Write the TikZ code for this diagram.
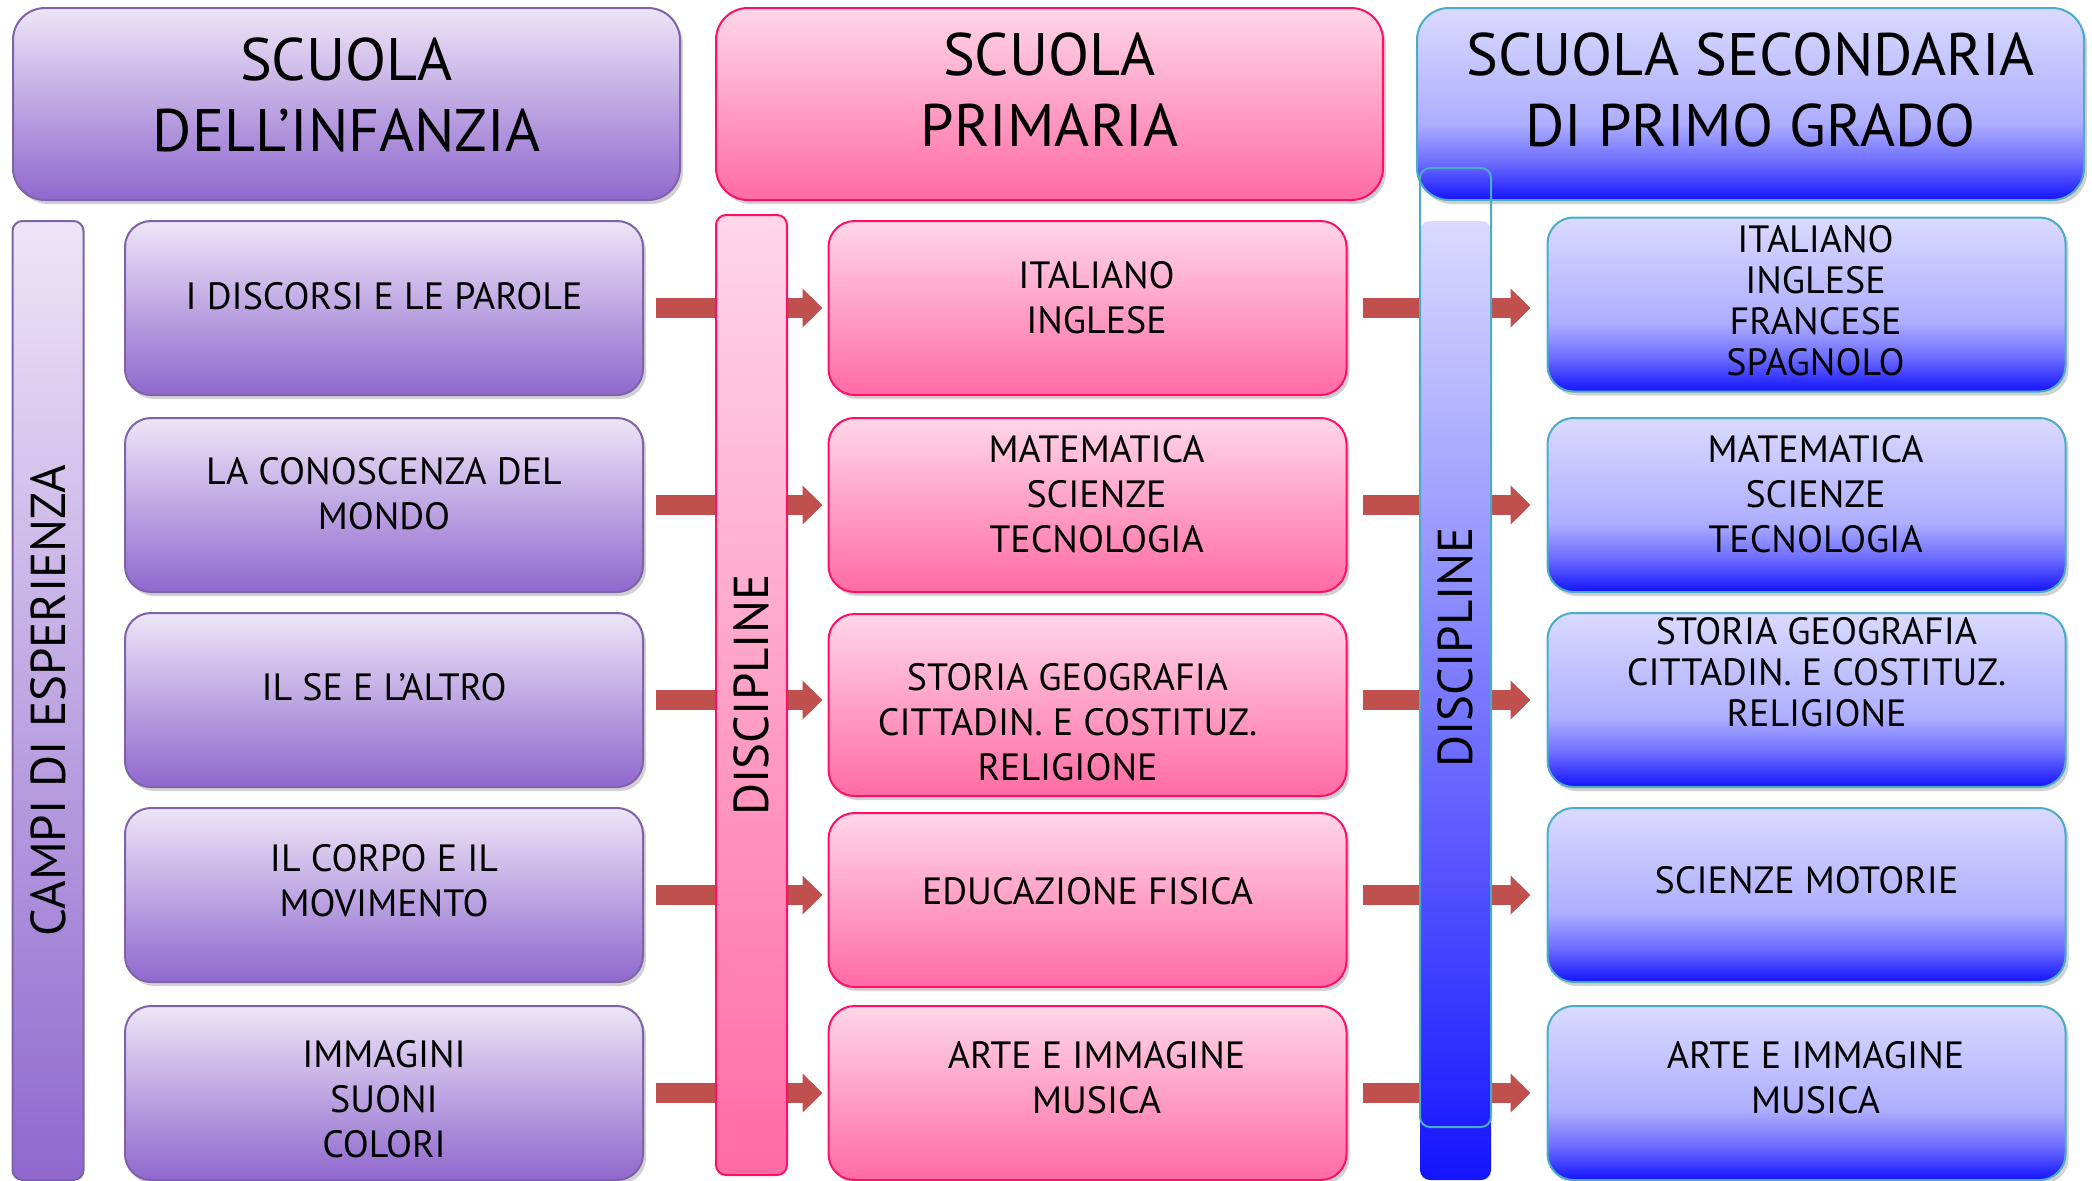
\documentclass[tikz,border=0pt]{standalone}
\usepackage{fontspec}
\setmainfont{PT Sans}
\usepackage{tikz}
\usetikzlibrary{positioning,arrows.meta,shadows}

\definecolor{violaT}{HTML}{EDE5F7}
\definecolor{violaB}{HTML}{9068CE}
\definecolor{violaL}{HTML}{7F63A8}
\definecolor{rosaT}{HTML}{FFD6E8}
\definecolor{rosaB}{HTML}{FF6BA4}
\definecolor{rosaL}{HTML}{FF0F68}
\definecolor{bluT}{HTML}{DADAFF}
\definecolor{bluM}{HTML}{AEAEFF}
\definecolor{bluMB}{HTML}{6E6EFF}
\definecolor{bluB}{HTML}{1414FF}
\definecolor{bluL}{HTML}{4BACC6}
\definecolor{frecciaR}{HTML}{C0504D}

\pgfdeclareverticalshading{blusfum}{100bp}{color(0bp)=(bluB); color(25bp)=(bluB); color(35bp)=(bluMB); color(45bp)=(bluM); color(75bp)=(bluT); color(100bp)=(bluT)}

\begin{document}
\begin{tikzpicture}[x=0.5pt, y=-0.5pt,
ombra/.style={drop shadow={shadow xshift=1.5pt, shadow yshift=-2pt, opacity=.3, fill=black!60}},
intest/.style={rounded corners=16pt, minimum width=333.5pt, minimum height=96pt, line width=1pt, inner sep=0pt, ombra},
casella/.style={rounded corners=13pt, minimum width=259pt, minimum height=87pt, line width=1pt, inner sep=0pt, ombra},
viola/.style={draw=violaL, top color=violaT, bottom color=violaB},
rosa/.style={draw=rosaL, top color=rosaT, bottom color=rosaB},
blu/.style={draw=bluL, shade, shading=blusfum},
barra/.style={rounded corners=5pt, minimum width=35.5pt, minimum height=479.5pt, line width=1pt, inner sep=0pt},
titolo/.style={align=center, font=\fontsize{30}{35.5}\selectfont},
testo/.style={align=center, font=\fontsize{19}{22.5}\selectfont},
fitto/.style={align=center, font=\fontsize{19}{20.5}\selectfont},
verticale/.style={rotate=90, font=\fontsize{24.5}{28}\selectfont},
freccia/.style={line width=10pt, draw=frecciaR, -{Triangle[length=10pt, width=19pt]}}
]
\useasboundingbox (0,0) rectangle (2092,1180);

%intestazioni
\node[intest, viola, label={[titolo, yshift=4.5pt]center:SCUOLA\\DELL'INFANZIA}] (infanzia) at (346.5,104) {};
\node[intest, rosa, label={[titolo, yshift=7pt]center:SCUOLA\\PRIMARIA}] (primaria) at (1049.5,104) {};
\node[intest, blu, label={[titolo, yshift=7pt]center:SCUOLA SECONDARIA\\DI PRIMO GRADO}] (secondaria) at (1750.5,104) {};

%campi di esperienza
\node[barra, viola, label={[verticale]center:CAMPI DI ESPERIENZA}] (campi) at (48,700.5) {};
\node[casella, viola, label={[testo, yshift=6pt]center:I DISCORSI E LE PAROLE}] (c1) at (384,308) {};
\node[casella, viola, label={[testo, yshift=5.5pt]center:LA CONOSCENZA DEL\\MONDO}] (c2) at (384,505) {};
\node[casella, viola, label={[testo, yshift=6.5pt]center:IL SE E L'ALTRO}] (c3) at (384,700) {};
\node[casella, viola, label={[testo, yshift=7pt]center:IL CORPO E IL\\MOVIMENTO}] (c4) at (384,895) {};
\node[casella, viola, label={[testo, yshift=-3pt]center:IMMAGINI\\SUONI\\COLORI}] (c5) at (384,1093) {};

%primaria
\node[casella, rosa, label={[testo, yshift=5pt, xshift=4.5pt]center:ITALIANO\\INGLESE}] (p1) at (1087.5,308) {};
\node[casella, rosa, label={[testo, yshift=5.5pt, xshift=4.5pt]center:MATEMATICA\\SCIENZE\\TECNOLOGIA}] (p2) at (1087.5,505) {};
\node[casella, rosa, minimum height=91pt, label={[testo, yshift=-8.5pt, xshift=-10pt]center:STORIA GEOGRAFIA\\CITTADIN. E COSTITUZ.\\RELIGIONE}] (p3) at (1087.5,705) {};
\node[casella, rosa, label={[testo, yshift=4.5pt]center:EDUCAZIONE FISICA}] (p4) at (1087.5,900) {};
\node[casella, rosa, label={[testo, yshift=7.5pt, xshift=4.5pt]center:ARTE E IMMAGINE\\MUSICA}] (p5) at (1087.5,1093) {};

%secondaria
\node[casella, blu, label={[fitto, yshift=2pt, xshift=4.5pt]center:ITALIANO\\INGLESE\\FRANCESE\\SPAGNOLO}] (s1) at (1806.5,304.5) {};
\node[casella, blu, label={[testo, yshift=5.5pt, xshift=4.5pt]center:MATEMATICA\\SCIENZE\\TECNOLOGIA}] (s2) at (1806.5,505) {};
\node[casella, blu, label={[fitto, yshift=14pt, xshift=5pt]center:STORIA GEOGRAFIA\\CITTADIN. E COSTITUZ.\\RELIGIONE}] (s3) at (1806.5,700) {};
\node[casella, blu, label={[testo, yshift=7.5pt]center:SCIENZE MOTORIE}] (s4) at (1806.5,895) {};
\node[casella, blu, label={[testo, yshift=7.5pt, xshift=4.5pt]center:ARTE E IMMAGINE\\MUSICA}] (s5) at (1806.5,1093) {};

%frecce
\draw[freccia, shorten <=6pt, shorten >=2.5pt] (c1.east) -- (c1.east -| p1.west);
\draw[freccia, shorten <=6pt, shorten >=2.5pt] (c2.east) -- (c2.east -| p2.west);
\draw[freccia, shorten <=6pt, shorten >=2.5pt] (c3.east) -- (c3.east -| p3.west);
\draw[freccia, shorten <=6pt, shorten >=2.5pt] (c4.east) -- (c4.east -| p4.west);
\draw[freccia, shorten <=6pt, shorten >=2.5pt] (c5.east) -- (c5.east -| p5.west);

\draw[freccia, shorten <=7.5pt, shorten >=8pt] (p1.east |- c1) -- (s1.west |- c1);
\draw[freccia, shorten <=7.5pt, shorten >=8pt] (p2.east |- c2) -- (s2.west |- c2);
\draw[freccia, shorten <=7.5pt, shorten >=8pt] (p3.east |- c3) -- (s3.west |- c3);
\draw[freccia, shorten <=7.5pt, shorten >=8pt] (p4.east |- c4) -- (s4.west |- c4);
\draw[freccia, shorten <=7.5pt, shorten >=8pt] (p5.east |- c5) -- (s5.west |- c5);

%discipline
\node[barra, rosa, minimum height=480pt, label={[verticale]center:DISCIPLINE}] (disc1) at (751.5,695) {};
\node[barra, top color=bluT, middle color=bluM, bottom color=bluB] (disc2) at (1455.5,700.5) {};
\node[barra, draw=bluL, label={[verticale]center:DISCIPLINE}] (disc2bordo) at (1455.5,647.5) {};

\end{tikzpicture}
\end{document}
